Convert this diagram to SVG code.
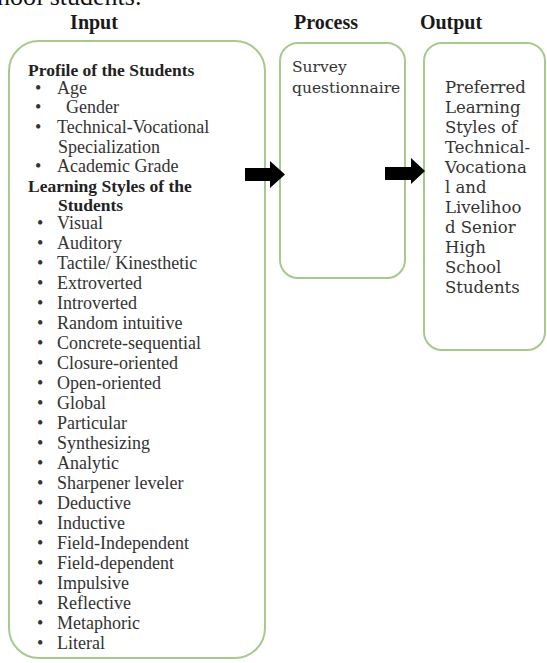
<svg xmlns="http://www.w3.org/2000/svg" width="547" height="663" viewBox="0 0 547 663">
<style>
.box{fill:#ffffff;stroke:#a8c98e;stroke-width:2}
.hdr{font-family:"Liberation Serif",serif;font-weight:bold;font-size:20px;fill:#1a1a1a;text-anchor:middle}
.b{font-family:"Liberation Serif",serif;font-weight:bold;font-size:17.5px;fill:#222}
.t{font-family:"Liberation Serif",serif;font-size:18px;fill:#333}
.c{font-family:"DejaVu Serif",serif;font-size:16.5px;fill:#333}
.p{font-family:"DejaVu Serif",serif;font-size:15.5px;fill:#333}
.arrow{fill:#000}
</style>
<rect width="547" height="663" fill="#ffffff"/>
<text x="-3" y="5" style="font-family:'Liberation Serif',serif;font-size:26px;fill:#111">hool students.</text>
<g id="headers">
<text class="hdr" x="94" y="29">Input</text>
<text class="hdr" x="326" y="29">Process</text>
<text class="hdr" x="451" y="29">Output</text>
</g>
<g id="input">
<rect class="box" x="9" y="41" width="256" height="617" rx="30"/>
<text class="b" x="28" y="76">Profile of the Students</text>
<g class="t">
<text x="35" y="94">•</text><text x="57" y="94">Age</text>
<text x="35" y="113">•</text><text x="66" y="113">Gender</text>
<text x="35" y="133">•</text><text x="57" y="133">Technical-Vocational</text>
<text x="58" y="153">Specialization</text>
<text x="35" y="172">•</text><text x="57" y="172">Academic Grade</text>
</g>
<text class="b" x="28" y="192">Learning Styles of the</text>
<text class="b" x="58" y="211">Students</text>
<g class="t">
<text x="37" y="229">•</text><text x="57" y="229">Visual</text>
<text x="37" y="249">•</text><text x="57" y="249">Auditory</text>
<text x="37" y="269">•</text><text x="57" y="269">Tactile/ Kinesthetic</text>
<text x="37" y="289">•</text><text x="57" y="289">Extroverted</text>
<text x="37" y="309">•</text><text x="57" y="309">Introverted</text>
<text x="37" y="329">•</text><text x="57" y="329">Random intuitive</text>
<text x="37" y="349">•</text><text x="57" y="349">Concrete-sequential</text>
<text x="37" y="369">•</text><text x="57" y="369">Closure-oriented</text>
<text x="37" y="389">•</text><text x="57" y="389">Open-oriented</text>
<text x="37" y="409">•</text><text x="57" y="409">Global</text>
<text x="37" y="429">•</text><text x="57" y="429">Particular</text>
<text x="37" y="449">•</text><text x="57" y="449">Synthesizing</text>
<text x="37" y="469">•</text><text x="57" y="469">Analytic</text>
<text x="37" y="489">•</text><text x="57" y="489">Sharpener leveler</text>
<text x="37" y="509">•</text><text x="57" y="509">Deductive</text>
<text x="37" y="529">•</text><text x="57" y="529">Inductive</text>
<text x="37" y="549">•</text><text x="57" y="549">Field-Independent</text>
<text x="37" y="569">•</text><text x="57" y="569">Field-dependent</text>
<text x="37" y="589">•</text><text x="57" y="589">Impulsive</text>
<text x="37" y="609">•</text><text x="57" y="609">Reflective</text>
<text x="37" y="629">•</text><text x="57" y="629">Metaphoric</text>
<text x="37" y="649">•</text><text x="57" y="649">Literal</text>
</g>
</g>
<g id="process">
<rect class="box" x="280" y="43" width="125" height="235" rx="18"/>
<text class="p" x="292" y="72">Survey</text>
<text class="p" x="292" y="93">questionnaire</text>
</g>
<g id="output">
<rect class="box" x="424" y="43" width="121" height="307" rx="18"/>
<g class="c">
<text x="445" y="93">Preferred</text>
<text x="445" y="113">Learning</text>
<text x="445" y="133">Styles of</text>
<text x="445" y="153">Technical-</text>
<text x="445" y="173">Vocationa</text>
<text x="445" y="193">l and</text>
<text x="445" y="213">Livelihoo</text>
<text x="445" y="233">d Senior</text>
<text x="445" y="253">High</text>
<text x="445" y="273">School</text>
<text x="445" y="293">Students</text>
</g>
</g>
<g id="connectors">
<polygon class="arrow" points="245,168 270,168 270,161 285,174.5 270,188 270,181 245,181"/>
<polygon class="arrow" points="385,167 411,167 411,158 425,171 411,184 411,180 385,180"/>
</g>
</svg>
